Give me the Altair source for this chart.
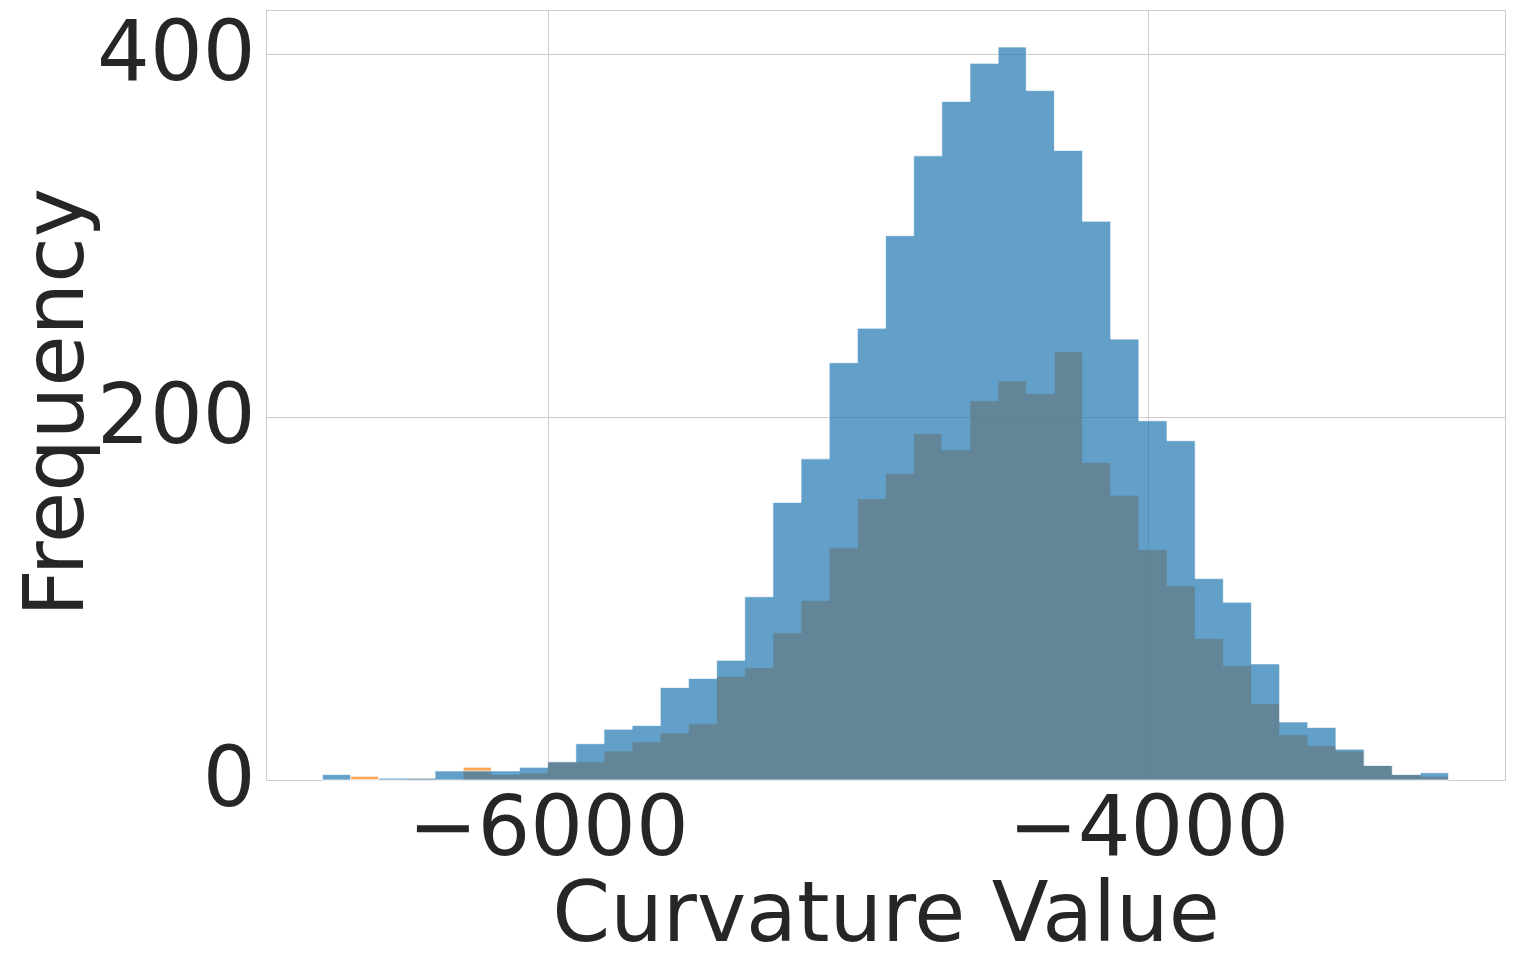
import altair as alt
import pandas as pd

# Histogram bin edges (shared by both series)
bin_edges = [-6751.0, -6657.2, -6563.4, -6469.6, -6375.8, -6282.0, -6188.2, -6094.4,
             -6000.6, -5906.8, -5813.0, -5719.2, -5625.4, -5531.6, -5437.8, -5344.0,
             -5250.2, -5156.4, -5062.6, -4968.8, -4875.0, -4781.2, -4687.4, -4593.6,
             -4499.8, -4406.0, -4312.2, -4218.4, -4124.6, -4030.8, -3937.0, -3843.2,
             -3749.4, -3655.6, -3561.8, -3468.0, -3374.2, -3280.4, -3186.6, -3092.8,
             -2999.0]

blue_counts = [3, 0, 1, 1, 5, 5, 5, 7, 10, 20, 28, 30, 51, 56, 66, 101, 153, 177, 230, 249,
               300, 344, 374, 395, 404, 380, 347, 308, 243, 198, 187, 111, 98, 64, 32, 29, 17, 8, 3, 4]

orange_counts = [0, 2, 0, 1, 0, 7, 3, 4, 10, 10, 16, 21, 26, 31, 57, 62, 81, 99, 128, 155,
                 169, 191, 182, 209, 220, 213, 236, 175, 157, 127, 107, 78, 63, 42, 25, 19, 16, 8, 3, 2]

x_ticks = [-6000, -4000]
y_ticks = [0, 200, 400]


def step_frame(counts):
    return pd.DataFrame({"value": bin_edges, "count": list(counts) + [counts[-1]]})


FONT = "DejaVu Sans"
TXT = "#262626"
FS = 83

x_enc = alt.X("value:Q",
              scale=alt.Scale(domain=[-6939, -2811], nice=False, zero=False),
              axis=alt.Axis(values=x_ticks, format="d", title="Curvature Value",
                            grid=True, gridColor="#cccccc", gridWidth=1,
                            domain=False, ticks=False,
                            labelFont=FONT, labelFontSize=FS, labelColor=TXT,
                            labelPadding=8, labelFlush=False, labelLimit=2000,
                            labelOverlap=False,
                            titleFont=FONT, titleFontSize=FS, titleColor=TXT,
                            titleFontWeight="normal", titleY=160, titleLimit=2000,
                            titleBaseline="alphabetic"))
y_enc = alt.Y("count:Q",
              scale=alt.Scale(domain=[0, 424.4], nice=False),
              axis=alt.Axis(values=y_ticks, format="d", title="Frequency",
                            grid=True, gridColor="#cccccc", gridWidth=1,
                            domain=False, ticks=False,
                            labelFont=FONT, labelFontSize=FS, labelColor=TXT,
                            labelPadding=11, labelFlush=False, labelLimit=2000,
                            labelOverlap=False,
                            titleFont=FONT, titleFontSize=FS, titleColor=TXT,
                            titleFontWeight="normal", titleX=-184, titleY=392,
                            titleAngle=270, titleAlign="center", titleLimit=2000,
                            titleBaseline="alphabetic"))

orange = alt.Chart(step_frame(orange_counts)).mark_area(
    interpolate="step-after", fill="#ff7f0e", fillOpacity=0.7,
    stroke="white", strokeOpacity=0.7, strokeWidth=1
).encode(x=x_enc, y=y_enc)

blue = alt.Chart(step_frame(blue_counts)).mark_area(
    interpolate="step-after", fill="#1f77b4", fillOpacity=0.7,
    stroke="white", strokeOpacity=0.7, strokeWidth=1
).encode(x=x_enc, y=y_enc)

chart = alt.layer(orange, blue).properties(
    width=1239, height=770,
    autosize=alt.AutoSizeParams(type="none"),
    padding={"left": 258, "top": 2, "right": 1, "bottom": 166},
    background="white",
).configure_view(stroke="#cccccc", strokeWidth=1)

chart.save("out.html", embed_options={"renderer": "svg", "actions": False})
